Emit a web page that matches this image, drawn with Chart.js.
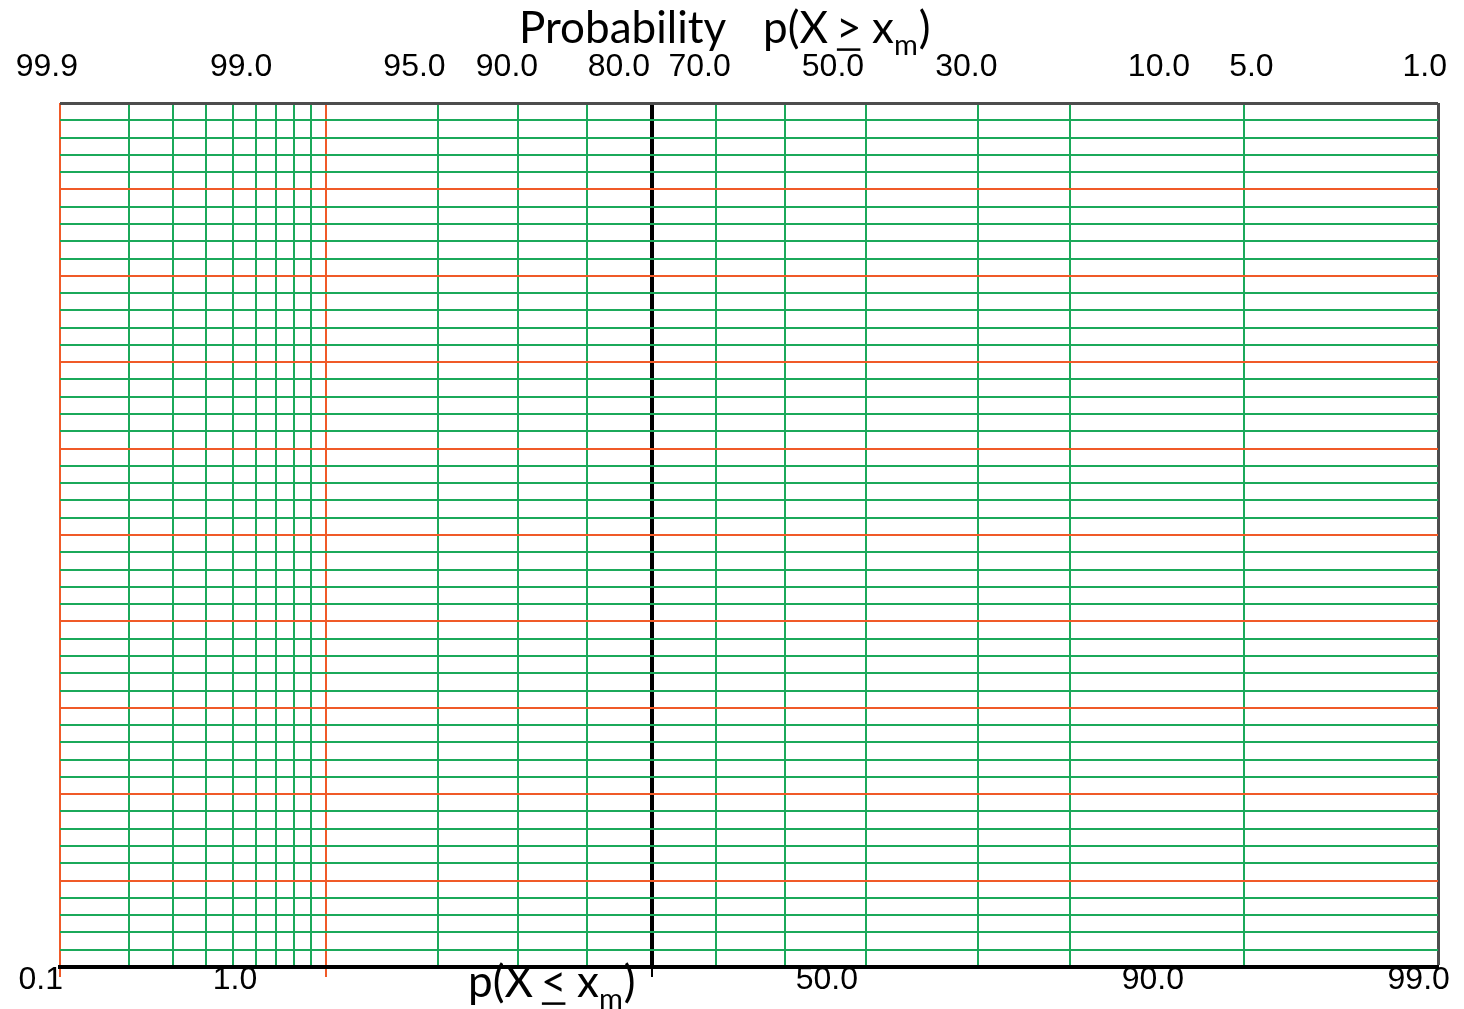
<!DOCTYPE html>
<html>
<head>
<meta charset="utf-8">
<script src="https://cdn.jsdelivr.net/npm/chart.js@4.4.0/dist/chart.umd.min.js"></script>
<style>
html,body{margin:0;padding:0;background:#ffffff;}
#wrap{width:1464px;height:1009px;position:relative;}
</style>
</head>
<body>
<div id="wrap"><canvas id="c" width="1464" height="1009"></canvas></div>
<script>
// ---- data (percentages) ----
const gridProbabilities = [1, 2, 3, 4, 5, 6, 7, 8, 9, 10, 20, 30, 40, 50, 60, 70, 80, 90, 95, 99, 99.9];
const majorProbabilities = [1, 10];
const centerProbability = 50;
const edgeProbability = 99.9;
const rowCount = 50;
const majorRowEvery = 5;
const topTickValues = [99.9, 99.0, 95.0, 90.0, 80.0, 70.0, 50.0, 30.0, 10.0, 5.0, 1.0];   // p(X >= xm)
const topTickLabels = ['99.9', '99.0', '95.0', '90.0', '80.0', '70.0', '50.0', '30.0', '10.0', '5.0', '1.0'];
const bottomTickValues = [0.1, 1.0, 50.0, 90.0, 99.0];                                     // p(X <= xm)
const bottomTickLabels = ['0.1', '1.0', '50.0', '90.0', '99.0'];
const topTitleWord = 'Probability';

// ---- styles ----
const GREEN = '#1ba95a';
const ORANGE = '#f05a28';
const BORDER_GRAY = '#4d4d4d';
const TICK_FONT = {family: '"Liberation Sans", Arial, sans-serif', size: 32};
const TITLE_FAMILY = 'Lato, "Open Sans", sans-serif';

// inverse standard normal CDF (probability scale transform)
function probit(p) {
  const a = [-3.969683028665376e+01, 2.209460984245205e+02, -2.759285104469687e+02, 1.383577518672690e+02, -3.066479806614716e+01, 2.506628277459239e+00];
  const b = [-5.447609879822406e+01, 1.615858368580409e+02, -1.556989798598866e+02, 6.680131188771972e+01, -1.328068155288572e+01];
  const c = [-7.784894002430293e-03, -3.223964580411365e-01, -2.400758277161838e+00, -2.549732539343734e+00, 4.374664141464968e+00, 2.938163982698783e+00];
  const d = [7.784695709041462e-03, 3.224671290700398e-01, 2.445134137142996e+00, 3.754408661907416e+00];
  const pl = 0.02425, ph = 1 - pl;
  let q, r;
  if (p < pl) {
    q = Math.sqrt(-2 * Math.log(p));
    return (((((c[0]*q+c[1])*q+c[2])*q+c[3])*q+c[4])*q+c[5]) / ((((d[0]*q+d[1])*q+d[2])*q+d[3])*q+1);
  } else if (p <= ph) {
    q = p - 0.5; r = q*q;
    return (((((a[0]*r+a[1])*r+a[2])*r+a[3])*r+a[4])*r+a[5])*q / (((((b[0]*r+b[1])*r+b[2])*r+b[3])*r+b[4])*r+1);
  } else {
    q = Math.sqrt(-2 * Math.log(1 - p));
    return -(((((c[0]*q+c[1])*q+c[2])*q+c[3])*q+c[4])*q+c[5]) / ((((d[0]*q+d[1])*q+d[2])*q+d[3])*q+1);
  }
}

const gridMin = probit(gridProbabilities[0] / 100);
const gridMax = probit(gridProbabilities[gridProbabilities.length - 1] / 100);
// the printed scales are the same probability scale, shifted
const topLabelMin = gridMin - 0.712;
const topLabelMax = topLabelMin + (gridMax - gridMin);
const bottomLabelMin = gridMin - 0.688;
const bottomLabelMax = bottomLabelMin + (gridMax - gridMin);

function gridColor(ctx) {
  const p = ctx.tick && ctx.tick.prob;
  if (p === centerProbability) return '#000000';
  if (p === edgeProbability) return BORDER_GRAY;
  if (majorProbabilities.includes(p)) return ORANGE;
  return GREEN;
}
function gridWidth(ctx) {
  const p = ctx.tick && ctx.tick.prob;
  if (p === centerProbability) return 4;
  if (p === edgeProbability) return 3;
  return 2;
}
function gridTickColor(ctx) {
  const p = ctx.tick && ctx.tick.prob;
  if (p === centerProbability) return '#000000';
  if (majorProbabilities.includes(p)) return ORANGE;
  return 'rgba(0,0,0,0)';
}
function rowColor(ctx) {
  const v = ctx.tick ? ctx.tick.value : 0;
  if (v === 0) return '#000000';
  if (v === rowCount) return BORDER_GRAY;
  if (v % majorRowEvery === 0) return ORANGE;
  return GREEN;
}
function rowWidth(ctx) {
  const v = ctx.tick ? ctx.tick.value : 0;
  if (v === 0) return 4;
  if (v === rowCount) return 3;
  return 2;
}

const axisTitles = {
  id: 'axisTitles',
  afterDraw(chart) {
    const ctx = chart.ctx;
    ctx.save();
    ctx.fillStyle = '#000';
    ctx.strokeStyle = '#000';
    ctx.textBaseline = 'alphabetic';
    ctx.textAlign = 'left';

    function drawFormula(x, y, size, rel) {
      const main = size + 'px ' + TITLE_FAMILY;
      const sub = Math.round(size * 0.66) + 'px ' + TITLE_FAMILY;
      ctx.font = main;
      ctx.fillText('p(X', x, y);
      x += ctx.measureText('p(X').width + size * 0.18;
      ctx.fillText(rel, x, y);
      const w = ctx.measureText(rel).width;
      ctx.lineWidth = 2.5;
      ctx.beginPath();
      ctx.moveTo(x + 1, y + size * 0.15);
      ctx.lineTo(x + w - 1, y + size * 0.15);
      ctx.stroke();
      x += w + size * 0.24;
      ctx.fillText('x', x, y);
      x += ctx.measureText('x').width;
      ctx.font = sub;
      ctx.fillText('m', x, y + size * 0.28);
      x += ctx.measureText('m').width + 1;
      ctx.font = main;
      ctx.fillText(')', x, y);
    }

    ctx.font = '44px ' + TITLE_FAMILY;
    ctx.fillText(topTitleWord, 519, 43);
    drawFormula(763, 43, 44, '>');
    drawFormula(468, 997, 44, '<');
    ctx.restore();
  }
};

function noSidePadding(scale) { scale.paddingLeft = 0; scale.paddingRight = 0; }
function noLabelClip(scale) { scale._computeLabelArea = function () { return undefined; }; }

new Chart(document.getElementById('c'), {
  type: 'scatter',
  data: {datasets: []},
  plugins: [axisTitles],
  options: {
    responsive: false,
    animation: false,
    devicePixelRatio: 1,
    layout: {padding: {left: 60, right: 26, top: 0, bottom: 0}},
    plugins: {legend: {display: false}, tooltip: {enabled: false}, title: {display: false}},
    scales: {
      x: {
        type: 'linear', position: 'bottom', weight: 0,
        min: gridMin, max: gridMax,
        afterBuildTicks(scale) {
          scale.ticks = gridProbabilities.map(p => ({value: probit(p / 100), prob: p}));
        },
        ticks: {display: false},
        grid: {color: gridColor, lineWidth: gridWidth, drawTicks: true, tickLength: 10, tickColor: gridTickColor, tickWidth: 2},
        border: {display: true, color: '#000000', width: 4},
        afterFit(scale) { scale.height = 10; noSidePadding(scale); }
      },
      xb: {
        type: 'linear', position: 'bottom', weight: 1,
        min: bottomLabelMin, max: bottomLabelMax,
        afterBuildTicks(scale) {
          scale.ticks = bottomTickValues.map(p => ({value: probit(p / 100)}));
        },
        ticks: {
          autoSkip: false, maxRotation: 0, padding: -24, color: '#000', font: TICK_FONT,
          callback: (v, i) => bottomTickLabels[i]
        },
        grid: {display: false},
        border: {display: false},
        afterFit(scale) { scale.height = 32; noSidePadding(scale); noLabelClip(scale); }
      },
      xt: {
        type: 'linear', position: 'top',
        min: topLabelMin, max: topLabelMax,
        afterBuildTicks(scale) {
          scale.ticks = topTickValues.map(p => ({value: probit(1 - p / 100)}));
        },
        ticks: {
          autoSkip: false, maxRotation: 0, padding: 9, color: '#000', font: TICK_FONT,
          callback: (v, i) => topTickLabels[i]
        },
        grid: {display: false},
        border: {display: false},
        afterFit(scale) { scale.height = 103; noSidePadding(scale); noLabelClip(scale); }
      },
      y: {
        type: 'linear', position: 'left',
        min: 0, max: rowCount,
        afterBuildTicks(scale) {
          const t = [];
          for (let v = 0; v <= rowCount; v++) t.push({value: v});
          scale.ticks = t;
        },
        ticks: {display: false},
        grid: {color: rowColor, lineWidth: rowWidth, drawTicks: false},
        border: {display: false},
        afterFit(scale) { scale.width = 0; scale.paddingTop = 0; scale.paddingBottom = 0; }
      }
    }
  }
});
</script>
</body>
</html>
